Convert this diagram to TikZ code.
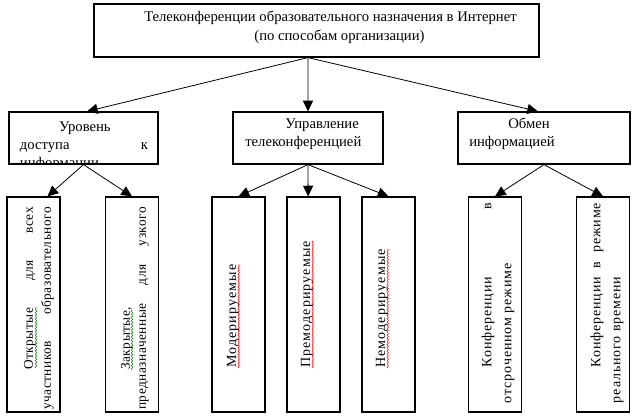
\documentclass[tikz,border=0pt]{standalone}
\usepackage{fontspec}
\setmainfont{Liberation Serif}
\usetikzlibrary{arrows.meta,decorations.pathmorphing}

\tikzset{
  boxframe/.style={draw, line width=0.9pt, inner sep=0pt},
  arr/.style={line width=0.6pt, -{Triangle[length=8pt,width=7.5pt]}},
  spell/.style={decorate, decoration={snake, amplitude=0.5pt, segment length=2.4pt}, line width=0.4pt},
  vtext/.style={rotate=90, align=left, inner sep=0pt},
}
% size, line distance, letter spacing
\newcommand{\widefont}[3]{\fontsize{#1}{#2}\selectfont\addfontfeature{LetterSpace=#3}}

\begin{document}
\begin{tikzpicture}[x=0.75pt, y=-0.75pt]
  \useasboundingbox (0,0) rectangle (640,415);

  % Top box
  \node[boxframe, minimum width=333.75pt, minimum height=39.75pt] (top) at (316.5,30.5) {};
  \node[align=center, inner sep=0pt, font=\fontsize{11}{14.25}\selectfont] (toptext) at (330.5,27.5)
    {Телеконференции образовательного назначения в Интернет\\ \hspace*{13.5pt}(по способам организации)};

  % Second row
  \node[boxframe, minimum width=111.75pt, minimum height=39pt] (access) at (83.5,138) {};
  \node[boxframe, minimum width=112.5pt, minimum height=39pt] (manage) at (308,138) {};
  \node[boxframe, minimum width=129pt, minimum height=39pt] (exchange) at (544,138) {};

  \begin{scope}
    \clip (access.north west) rectangle (access.south east);
    \node[text width=96pt, align=left, inner sep=0pt, font=\fontsize{11}{13.5}\selectfont] (accesstext) at (84,146)
      {\noindent\hspace*{29.25pt}Уровень\\ доступа\hfill к\\ информации};
  \end{scope}
  \node[anchor=west, align=left, inner sep=0pt, font=\fontsize{11}{13.5}\selectfont] (managetext) at (245,134)
    {\hspace*{30pt}Управление\\ телеконференцией};
  \node[anchor=west, align=left, inner sep=0pt, font=\fontsize{11}{13.5}\selectfont] (exchangetext) at (469,134)
    {\hspace*{29.25pt}Обмен\\ информацией};

  % Bottom row
  \foreach \name/\cx in {open/33.5, closed/132, moder/238.5, premod/313.5, unmod/388.5, delayed/495, realtime/603}
    \node[boxframe, minimum width=39.75pt, minimum height=161.25pt] (\name) at (\cx,304.5) {};

  \node[vtext, text width=152pt, font=\widefont{10}{13.5}{4}] (opentext) at (39,308.5)
    {\noindent\hspace*{30pt}Открытые\hfill для\hfill всех\\ участников\hfill образовательного};
  \node[vtext, text width=152pt, font=\widefont{10}{12}{4}] (closedtext) at (135,308.5)
    {\noindent\hspace*{30pt}Закрытые,\\ предназначенные\hfill для\hfill узкого};
  \node[vtext, anchor=west, font=\widefont{10.5}{12}{8}] (modertext) at (233,368) {Модерируемые};
  \node[vtext, anchor=west, font=\widefont{10.5}{12}{8}] (premodtext) at (307,368) {Премодерируемые};
  \node[vtext, anchor=west, font=\widefont{10.5}{12}{8}] (unmodtext) at (382,368) {Немодерируемые};
  \node[vtext, text width=150pt, font=\widefont{10.5}{15}{6}] (delayedtext) at (498,303)
    {\noindent\hspace*{27pt}Конференции\hfill в\\ отсроченном режиме};
  \node[vtext, text width=150pt, font=\widefont{10.5}{15}{6}] (realtimetext) at (607,303)
    {\noindent\hspace*{27pt}Конференции\hfill в\hfill режиме\\ реального времени};

  % Spelling marks
  \draw[spell, green!50!black] (36,368) -- (36,307);
  \draw[spell, green!50!black] (132,370) -- (132,310);
  \foreach \w in {modertext, premodtext, unmodtext}
    \draw[spell, red] ([xshift=2pt]\w.base west) -- ([xshift=2pt]\w.base east);

  % Connectors
  \coordinate (topfoot) at ([xshift=-6.4pt]top.south);
  \draw[arr] (topfoot) -- ([xshift=2.6pt]access.north);
  \draw[arr] (topfoot) -- (manage.north);
  \draw[arr] (topfoot) -- ([xshift=-4.5pt]exchange.north);

  \draw[arr] (access.south) -- ([xshift=10.5pt]open.north);
  \draw[arr] (access.south) -- (closed.north);

  \draw[arr] (manage.south) -- (moder.north);
  \draw[arr] (manage.south) -- ([xshift=-4pt]premod.north);
  \draw[arr] (manage.south) -- (unmod.north);

  \draw[arr] (exchange.south) -- (delayed.north);
  \draw[arr] (exchange.south) -- (realtime.north);
\end{tikzpicture}
\end{document}
